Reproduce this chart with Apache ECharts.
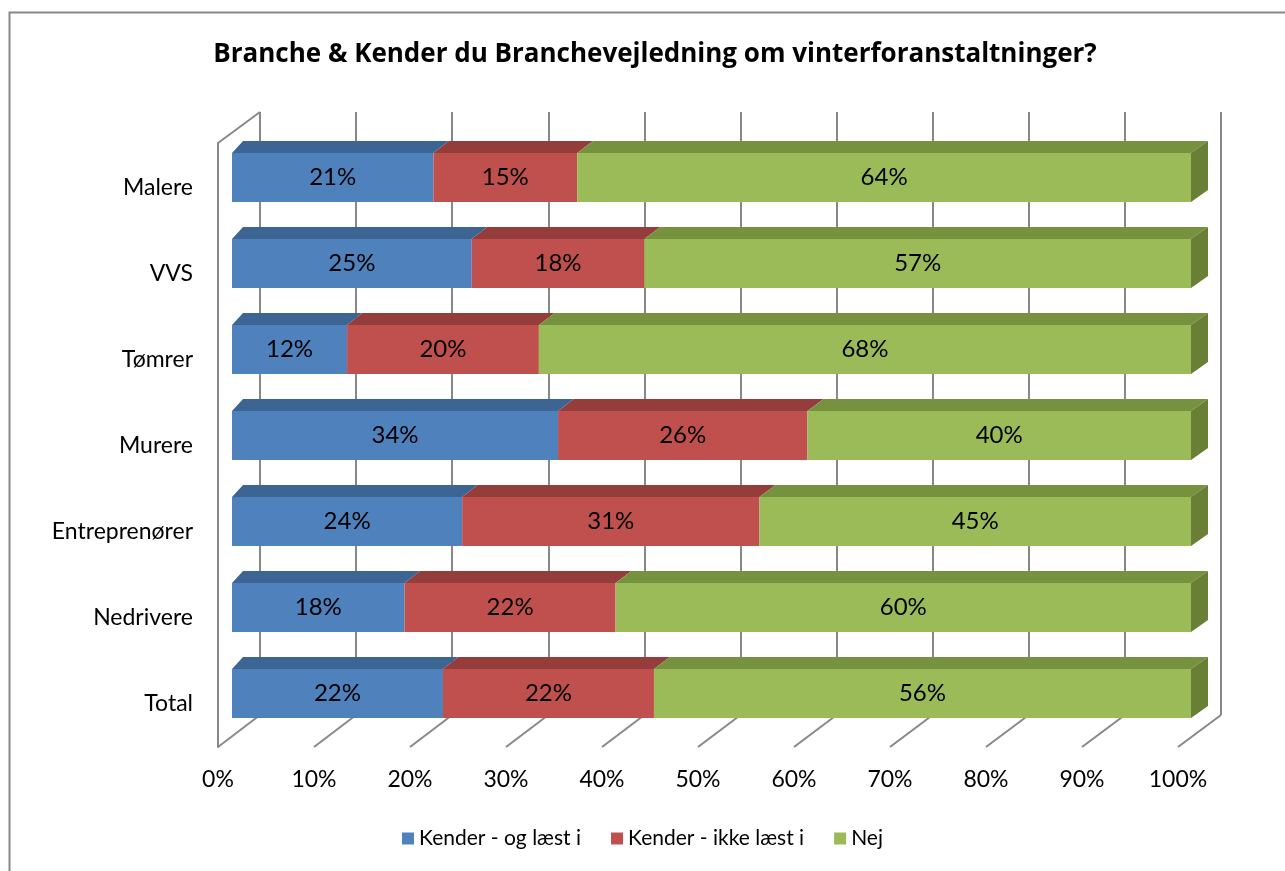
<!DOCTYPE html>
<html>
<head>
<meta charset="utf-8">
<script src="https://cdn.jsdelivr.net/npm/echarts@6/dist/echarts.min.js"></script>
<style>
  html, body { margin: 0; padding: 0; background: #fff; }
  #chart { width: 1285px; height: 871px; }
</style>
</head>
<body>
<div id="chart"></div>
<script>
// data, top row first
const categories = ['Malere', 'VVS', 'Tømrer', 'Murere', 'Entreprenører', 'Nedrivere', 'Total'];
const kenderLaest = [21, 25, 12, 34, 24, 18, 22];
const kenderIkkeLaest = [15, 18, 20, 26, 31, 22, 22];
const nej = [64, 57, 68, 40, 45, 60, 56];
const seriesNames = ['Kender - og læst i', 'Kender - ikke læst i', 'Nej'];
const xTicks = [0, 10, 20, 30, 40, 50, 60, 70, 80, 90, 100];

const font = 'Lato';
const frontColors = ['#4F81BD', '#C0504D', '#9BBB59'];
const topColors = ['#3D6594', '#943D3B', '#77923F'];
const sideColor = '#687F35';
const wallColor = '#888888';

// stacked start/end for the 3d top faces
const faces = [];
const values = [kenderLaest, kenderIkkeLaest, nej];
categories.forEach((c, i) => {
  let acc = 0;
  values.forEach((arr, k) => {
    faces.push([i, acc, acc + arr[i], k]);
    acc += arr[i];
  });
});

const chart = echarts.init(document.getElementById('chart'));

function renderFace(params, api) {
  const cat = api.value(0), s = api.value(1), e = api.value(2), k = api.value(3);
  const a = api.coord([s, cat]);
  const b = api.coord([e, cat]);
  const h = 49, dy = 12;
  const yt = a[1] - h / 2;
  const dxa = s === 0 ? 11 : 15 + 2 * s / 100;
  const dxb = 15 + 2 * e / 100;
  const children = [{
    type: 'polygon',
    shape: {points: [[a[0], yt], [b[0], yt], [b[0] + dxb, yt - dy], [a[0] + dxa, yt - dy]]},
    style: {fill: topColors[k]}
  }];
  if (e >= 100) {
    children.push({
      type: 'polygon',
      shape: {points: [[b[0], yt], [b[0] + dxb, yt - dy], [b[0] + dxb, yt - dy + h], [b[0], yt + h]]},
      style: {fill: sideColor}
    });
  }
  return {type: 'group', children: children};
}

function renderFloor(params, api) {
  const v = api.value(0);
  const p = api.coord([v, 0]);
  const children = [{
    type: 'line',
    shape: {x1: p[0], y1: p[1], x2: p[0] + 42 + v / 100, y2: p[1] - 32},
    style: {stroke: wallColor, lineWidth: 2}
  }];
  if (v === 0) {
    const t = api.coord([0, 1]);
    children.push({
      type: 'line',
      shape: {x1: t[0], y1: t[1], x2: t[0] + 42, y2: t[1] - 31},
      style: {stroke: wallColor, lineWidth: 2}
    });
  }
  return {type: 'group', children: children};
}

const option = {
  animation: false,
  textStyle: {fontFamily: font},
  title: {
    text: 'Branche & Kender du Branchevejledning om vinterforanstaltninger?',
    left: 650,
    textAlign: 'center',
    top: 37,
    textStyle: {fontFamily: 'Open Sans', fontSize: 26, fontWeight: 'bold', color: '#000'}
  },
  graphic: [{
    type: 'rect',
    shape: {x: 9.5, y: 12.5, width: 1300, height: 900},
    style: {fill: 'none', stroke: '#888', lineWidth: 2},
    silent: true
  }],
  legend: {
    bottom: 17,
    left: 'center',
    icon: 'rect',
    itemWidth: 12,
    itemHeight: 12,
    itemGap: 30,
    textStyle: {fontFamily: font, fontSize: 21, color: '#000'},
    data: seriesNames
  },
  grid: [
    // bars
    {left: 232, right: 94, top: 134.5, bottom: 134.5},
    // floor + left wall
    {left: 218, right: 107, top: 143, bottom: 124},
    // back wall
    {left: 260, right: 64, top: 112, bottom: 156}
  ],
  xAxis: [
    {gridIndex: 0, type: 'value', min: 0, max: 100, show: false},
    {
      gridIndex: 1, type: 'value', min: 0, max: 100, interval: 10,
      axisLine: {show: false}, axisTick: {show: false}, splitLine: {show: false},
      axisLabel: {formatter: '{value}%', color: '#000', fontSize: 23, fontFamily: font, margin: 21}
    },
    {
      gridIndex: 2, type: 'value', min: 0, max: 100, interval: 10,
      axisLine: {show: false}, axisTick: {show: false}, axisLabel: {show: false},
      splitLine: {show: true, lineStyle: {color: wallColor, width: 2}}
    }
  ],
  yAxis: [
    {
      gridIndex: 0, type: 'category', data: categories, inverse: true,
      axisLine: {show: false}, axisTick: {show: false},
      axisLabel: {
        color: '#000', fontSize: 23, fontFamily: font, margin: 39,
        verticalAlign: 'top', lineHeight: 20
      }
    },
    {
      gridIndex: 1, type: 'value', min: 0, max: 1,
      axisLine: {show: true, lineStyle: {color: wallColor, width: 2}},
      axisTick: {show: false}, axisLabel: {show: false}, splitLine: {show: false}
    },
    {gridIndex: 2, type: 'value', min: 0, max: 1, show: false, splitLine: {show: false}}
  ],
  series: [
    {
      type: 'custom',
      xAxisIndex: 1, yAxisIndex: 1,
      renderItem: renderFloor,
      data: xTicks.map(v => [v]),
      silent: true,
      z: 1
    },
    ...values.map((arr, k) => ({
      name: seriesNames[k],
      type: 'bar',
      stack: 'total',
      xAxisIndex: 0, yAxisIndex: 0,
      barWidth: 49,
      color: frontColors[k],
      label: {
        show: true, position: 'inside', formatter: '{c}%',
        color: '#000', fontSize: 24, fontFamily: font
      },
      data: arr,
      z: 5
    })),
    {
      type: 'custom',
      xAxisIndex: 0, yAxisIndex: 0,
      renderItem: renderFace,
      data: faces,
      silent: true,
      z: 5
    }
  ]
};

chart.setOption(option);
</script>
</body>
</html>
